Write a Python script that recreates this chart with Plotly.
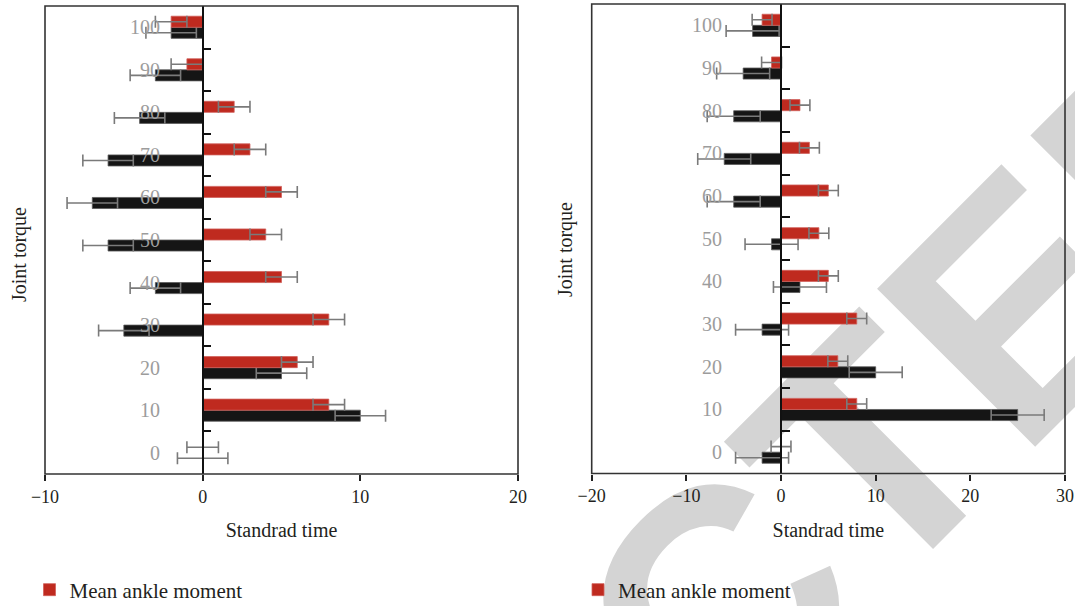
import plotly.graph_objects as go

# ---------------- data ----------------
categories = [0, 10, 20, 30, 40, 50, 60, 70, 80, 90, 100]
category_labels = ["0", "10", "20", "30", "40", "50", "60", "70", "80", "90", "100"]

left_red = [0, 8, 6, 8, 5, 4, 5, 3, 2, -1, -2]
left_red_err = [1.0, 1.0, 1.0, 1.0, 1.0, 1.0, 1.0, 1.0, 1.0, 1.0, 1.0]
left_black = [0, 10, 5, -5, -3, -6, -7, -6, -4, -3, -2]
left_black_err = [1.6, 1.6, 1.6, 1.6, 1.6, 1.6, 1.6, 1.6, 1.6, 1.6, 1.6]

right_red = [0, 8, 6, 8, 5, 4, 5, 3, 2, -1, -2]
right_red_err = [1.05, 1.05, 1.05, 1.05, 1.05, 1.05, 1.05, 1.05, 1.05, 1.05, 1.05]
right_black = [-2, 25, 10, -2, 2, -1, -5, -6, -5, -4, -3]
right_black_err = [2.8, 2.8, 2.8, 2.8, 2.8, 2.8, 2.8, 2.8, 2.8, 2.8, 2.8]

left_xticks = [-10, 0, 10, 20]
right_xticks = [-20, -10, 0, 10, 20, 30]

red_name = "Mean ankle moment"
black_name = "Mean knee moment"
x_title = "Standrad time"
y_title = "Joint torque"
watermark = "RETRACTED"

# ---------------- style ----------------
W, H = 1075, 606
SERIF = "Liberation Serif, Times New Roman, serif"
RED = "#bf2a1f"
BLACK = "#151515"
ERR = "#7a7a7a"
BAR_W = 2.6
band_edges = [c + 5 for c in categories[:-1]]

fig = go.Figure()


def add_panel(red, red_err, black, black_err, xa, ya, legend):
    fig.add_trace(go.Bar(
        y=categories, x=black, orientation="h", name=black_name,
        width=BAR_W, offset=-BAR_W, showlegend=False,
        marker=dict(color=BLACK, line=dict(color="#5a5a5a", width=0.8)),
        error_x=dict(type="data", array=black_err, color=ERR, thickness=1.6, width=6),
        xaxis=xa, yaxis=ya,
    ))
    fig.add_trace(go.Bar(
        y=categories, x=red, orientation="h", name=red_name,
        width=BAR_W, offset=0, legend=legend,
        marker=dict(color=RED, line=dict(color="#d0605a", width=0.8)),
        error_x=dict(type="data", array=red_err, color=ERR, thickness=1.6, width=6),
        xaxis=xa, yaxis=ya,
    ))


add_panel(left_red, left_red_err, left_black, left_black_err, "x", "y", "legend")
add_panel(right_red, right_red_err, right_black, right_black_err, "x2", "y2", "legend2")

# panel geometry (pixels)
L_x0, L_x1, L_top, L_bot = 45, 518, 6, 474
R_x0, R_x1, R_top, R_bot = 591.7, 1065, 4, 473.5
L_range = [-10, 20]
R_range = [-20, 30]


def zero_pos(x0, x1, rng):
    return (x0 + (x1 - x0) * (0 - rng[0]) / (rng[1] - rng[0])) / W


xaxis_common = dict(
    ticks="outside", ticklen=6, tickwidth=1.5, tickcolor="#222",
    showline=False, zeroline=False, showgrid=False,
    tickfont=dict(family=SERIF, size=18, color="#231f20"),
    title=dict(text=x_title, font=dict(family=SERIF, size=20, color="#231f20"), standoff=17),
)
yaxis_common = dict(
    range=[-5, 105], anchor="free", showline=True, linecolor="#111", linewidth=1.5,
    ticks="inside", ticklen=8, tickwidth=1.5, tickcolor="#111",
    tickvals=band_edges, showticklabels=False, showgrid=False, zeroline=False,
)

fig.update_layout(
    width=W, height=H,
    margin=dict(l=0, r=0, t=0, b=0, autoexpand=False),
    paper_bgcolor="white", plot_bgcolor="rgba(0,0,0,0)",
    barmode="overlay",
    xaxis=dict(domain=[L_x0 / W, L_x1 / W], range=L_range, tickvals=left_xticks, anchor="y", **xaxis_common),
    xaxis2=dict(domain=[R_x0 / W, R_x1 / W], range=R_range, tickvals=right_xticks, anchor="y2", **xaxis_common),
    yaxis=dict(domain=[1 - L_bot / H, 1 - L_top / H], position=zero_pos(L_x0, L_x1, L_range), **yaxis_common),
    yaxis2=dict(domain=[1 - R_bot / H, 1 - R_top / H], position=zero_pos(R_x0, R_x1, R_range), **yaxis_common),
    legend=dict(x=29.5 / W, y=1 - 590 / H, xanchor="left", yanchor="middle",
                font=dict(family=SERIF, size=21, color="#231f20"), bgcolor="rgba(0,0,0,0)"),
    legend2=dict(x=578 / W, y=1 - 590 / H, xanchor="left", yanchor="middle",
                 font=dict(family=SERIF, size=21, color="#231f20"), bgcolor="rgba(0,0,0,0)"),
    font=dict(family=SERIF),
)

# frame around each panel
for xr, yr in (("x domain", "y domain"), ("x2 domain", "y2 domain")):
    fig.add_shape(type="rect", xref=xr, yref=yr, x0=0, x1=1, y0=0, y1=1,
                  line=dict(color="#333", width=1.6), fillcolor="rgba(0,0,0,0)", layer="above")

# category labels (gray, drawn inside the plot left of the zero line)
for xa, ya, lx in (("x", "y", -2.55), ("x2", "y2", -6.0)):
    for c, lab in zip(categories, category_labels):
        fig.add_annotation(x=lx, y=c, xref=xa, yref=ya, text=lab, showarrow=False,
                           xanchor="right", yanchor="middle",
                           font=dict(family=SERIF, size=20, color="#9c9c9c"))

# y-axis titles
for px, py in ((20, 255), (565, 250)):
    fig.add_annotation(x=px / W, y=1 - py / H, xref="paper", yref="paper", text=y_title,
                       textangle=-90, showarrow=False, xanchor="center", yanchor="middle",
                       font=dict(family=SERIF, size=20, color="#231f20"))

# watermark behind the plot
cx, cy = 529 / W, 1 - 750 / H
fig.add_shape(type="rect", xref="paper", yref="paper", x0=cx - 0.001, x1=cx + 0.001,
              y0=cy - 0.001, y1=cy + 0.001, line=dict(width=0), fillcolor="rgba(0,0,0,0)",
              layer="below",
              label=dict(text=watermark, textangle=-45, textposition="middle center",
                         font=dict(family="Liberation Sans, Arial, sans-serif", size=325,
                                   color="#d4d4d4", weight="bold")))

fig.write_html("out.html", post_script="document.body.style.margin='0';",
               config={"displayModeBar": False})
